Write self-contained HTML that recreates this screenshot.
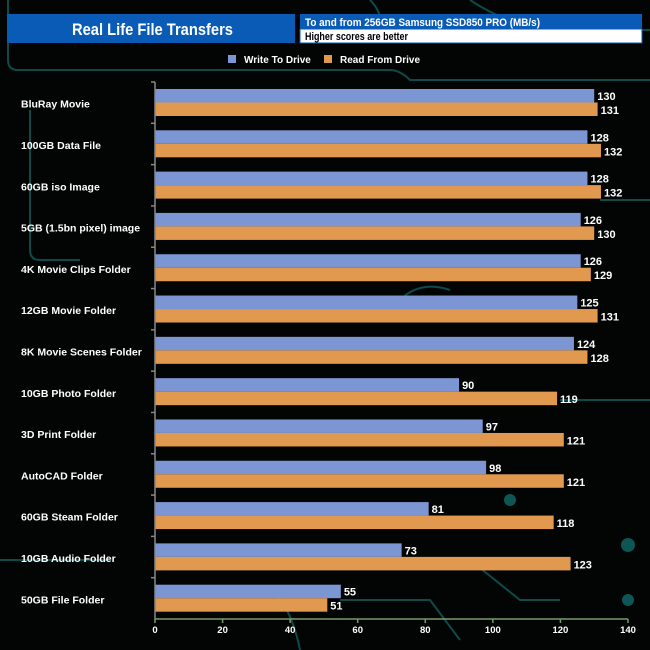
<!DOCTYPE html>
<html><head><meta charset="utf-8"><style>
body{margin:0;background:#000;}
#c{position:relative;width:650px;height:650px;background:#030505;overflow:hidden;font-family:"Liberation Sans",Arial,sans-serif;}
</style></head><body>
<div id="c">
<svg id="s" width="650" height="650" xmlns="http://www.w3.org/2000/svg">
<g stroke="#0e4a4a" stroke-width="2" fill="none">
<path d="M8 0 V60 Q8 70 18 70 H390 Q400 70 410 80 H650"/>
<path d="M370 0 Q380 10 380 20"/>
<path d="M470 0 Q500 20 540 30 H650"/>
<path d="M30 110 V250 Q30 260 40 260 H80"/>
<path d="M0 560 H110"/>
<path d="M265 586 Q290 600 300 650"/>
<path d="M340 600 H430 L460 640"/>
<path d="M470 560 L520 600 H560"/>
<path d="M560 400 H650"/>
<path d="M600 200 H650"/>
<path d="M400 300 Q420 280 450 290"/>
</g>
<circle cx="628" cy="545" r="7" fill="#0e5555"/>
<circle cx="628" cy="600" r="6" fill="#0e5555"/>
<circle cx="510" cy="500" r="6" fill="#0e5555"/>
<rect x="7" y="14" width="288" height="29" fill="#0a5bb5"/>
<text x="72" y="35" fill="#fff" font-size="17" font-weight="bold" textLength="161" lengthAdjust="spacingAndGlyphs">Real Life File Transfers</text>
<rect x="300" y="14" width="342" height="15" fill="#0a5bb5"/>
<rect x="300" y="29" width="342" height="14" fill="#fff" stroke="#0a5bb5"/>
<text x="305" y="26" fill="#fff" font-size="11" font-weight="bold" textLength="235" lengthAdjust="spacingAndGlyphs">To and from 256GB Samsung SSD850 PRO (MB/s)</text>
<text x="305" y="40" fill="#000" font-size="11" font-weight="bold" textLength="103" lengthAdjust="spacingAndGlyphs">Higher scores are better</text>
<rect x="228" y="55" width="8" height="8" fill="#7b96d2"/>
<text x="244" y="63" fill="#fff" font-size="10" font-weight="bold">Write To  Drive</text>
<rect x="324" y="55" width="8" height="8" fill="#e1984f"/>
<text x="340" y="63" fill="#fff" font-size="10" font-weight="bold">Read From  Drive</text>
<g id="plot"></g>
</svg>
</div>
<script>
const categories=["BluRay Movie","100GB Data File","60GB iso Image","5GB (1.5bn pixel) image","4K Movie Clips Folder","12GB Movie Folder","8K Movie Scenes Folder","10GB Photo Folder","3D Print Folder","AutoCAD Folder","60GB Steam Folder","10GB Audio Folder","50GB File Folder"];
const writeValues=[130,128,128,126,126,125,124,90,97,98,81,73,55];
const readValues=[131,132,132,130,129,131,128,119,121,121,118,123,51];
const tickValues=[0,20,40,60,80,100,120,140];
const NS="http://www.w3.org/2000/svg";
const g=document.getElementById('plot');
const X0=155,X1=628,XMAX=140,YT=82,YB=619;
const band=(YB-YT)/categories.length;
function xs(v){return X0+v/XMAX*(X1-X0);}
function ys(i){return YT+i*band;}
function mk(t,a){const e=document.createElementNS(NS,t);for(const k in a)e.setAttribute(k,a[k]);g.appendChild(e);return e;}
categories.forEach((c,i)=>{
  const y=ys(i)+7;
  const b1=mk('rect',{x:X0,y:y,width:xs(writeValues[i])-X0,height:13.5,fill:'#7b96d2'});
  
  
  const b2=mk('rect',{x:X0,y:y+13.5,width:xs(readValues[i])-X0,height:13.5,fill:'#e1984f'});
  
  
  const t1=mk('text',{x:xs(writeValues[i])+3,y:y+11,fill:'#fff','font-size':11,'font-weight':'bold'});t1.textContent=writeValues[i];
  
  
  const t2=mk('text',{x:xs(readValues[i])+3,y:y+25,fill:'#fff','font-size':11,'font-weight':'bold'});t2.textContent=readValues[i];
  
  
  const l=mk('text',{x:21,y:ys(i)+band/2+5,fill:'#fff','font-size':10.5,'font-weight':'bold'});l.textContent=c;
  
  
  const tk=mk('line',{x1:X0-4,x2:X0,y1:ys(i),y2:ys(i),stroke:'#888','stroke-width':1.5});
  
  
});
const ya=mk('line',{x1:X0,x2:X0,y1:YT,y2:YB,stroke:'#888','stroke-width':1.5});


const xa=mk('line',{x1:X0,x2:X1,y1:YB,y2:YB,stroke:'#7a9a6a','stroke-width':1.5});


tickValues.forEach(v=>{
  const tk=mk('line',{x1:xs(v),x2:xs(v),y1:YB,y2:YB+4,stroke:'#7a9a6a','stroke-width':1.5});
  
  
  const t=mk('text',{x:xs(v),y:YB+14,fill:'#fff','font-size':9.5,'font-weight':'bold','text-anchor':'middle'});t.textContent=v;
  
  
});
</script>
</body></html>
